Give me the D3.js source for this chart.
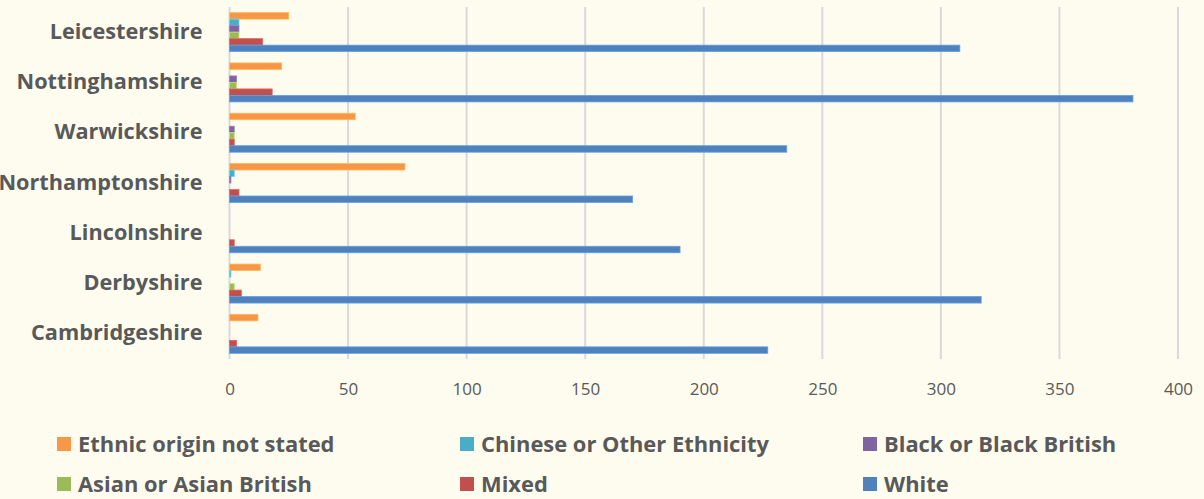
<!DOCTYPE html>
<html>
<head>
<meta charset="utf-8">
<script src="https://cdn.jsdelivr.net/npm/d3@7"></script>
<style>
  body { margin: 0; background: #fefcef; }
  svg { display: block; }
  .cat { font-family: "Open Sans", sans-serif; font-weight: bold; font-size: 21.7px; fill: #595959; }
  .tick text { font-family: "Open Sans", sans-serif; font-size: 17px; fill: #595959; }
  .legend text { font-family: "Open Sans", sans-serif; font-weight: bold; font-size: 21.9px; fill: #595959; }
</style>
</head>
<body>
<div id="chart"></div>
<script>
const counties = ["Leicestershire", "Nottinghamshire", "Warwickshire", "Northamptonshire", "Lincolnshire", "Derbyshire", "Cambridgeshire"];

// top to bottom within each county
const seriesNames = ["Ethnic origin not stated", "Chinese or Other Ethnicity", "Black or Black British", "Asian or Asian British", "Mixed", "White"];
const seriesColors = ["#f79646", "#4bacc6", "#8064a2", "#9bbb59", "#c0504d", "#4f81bd"];

const notStated = [25, 22, 53, 74, 0, 13, 12];
const chineseOther = [4, 0, 0, 2, 0, 0.6, 0];
const black = [4, 3, 2, 0.6, 0, 0, 0];
const asian = [4, 3, 2, 0, 0, 2, 0];
const mixed = [14, 18, 2, 4, 2, 5, 3];
const white = [308, 381, 235, 170, 190, 317, 227];

const xTicks = [0, 50, 100, 150, 200, 250, 300, 350, 400];

const seriesValues = [notStated, chineseOther, black, asian, mixed, white];

let svgWidth = 1204,
  svgHeight = 499,
  margin = { top: 7, right: 26, bottom: 140, left: 229.5 },
  width = svgWidth - margin.left - margin.right,
  height = svgHeight - margin.top - margin.bottom;

let svg = d3
  .select("#chart")
  .append("svg")
  .attr("width", svgWidth)
  .attr("height", svgHeight);

svg.append("rect").attr("width", svgWidth).attr("height", svgHeight).attr("fill", "#fefcef");

let g = svg.append("g").attr("transform", "translate(" + margin.left + "," + margin.top + ")");

let x = d3.scaleLinear().domain([0, 400]).range([0, width]);
let y0 = d3.scaleBand().domain(counties).range([0, height]).paddingInner(0.225).paddingOuter(0.1125);
let y1 = d3.scaleBand().domain(d3.range(seriesNames.length)).range([0, y0.bandwidth()]);

// gridlines
g.append("g")
  .selectAll("line")
  .data(xTicks)
  .enter()
  .append("line")
  .attr("x1", d => x(d))
  .attr("x2", d => x(d))
  .attr("y1", 0)
  .attr("y2", height)
  .attr("stroke", "#d9d9d9")
  .attr("stroke-width", 2);

// bars
let rows = [];
counties.forEach((c, ci) => {
  seriesValues.forEach((vals, si) => {
    rows.push({ county: c, s: si, v: vals[ci] });
  });
});

g.append("g")
  .selectAll("rect")
  .data(rows.filter(d => d.v > 0))
  .enter()
  .append("rect")
  .attr("x", x(0))
  .attr("y", d => y0(d.county) + y1(d.s))
  .attr("width", d => x(d.v) - x(0))
  .attr("height", y1.bandwidth())
  .attr("fill", d => seriesColors[d.s])
  .attr("stroke", d => d3.color(seriesColors[d.s]).brighter(0.6))
  .attr("stroke-width", 0.8);

// county labels
g.append("g")
  .selectAll("text")
  .data(counties)
  .enter()
  .append("text")
  .attr("class", "cat")
  .attr("x", -27)
  .attr("y", d => y0(d) + y0.bandwidth() / 2 - 1)
  .attr("dy", "0.35em")
  .attr("text-anchor", "end")
  .text(d => d);

// x axis
let xAxis = d3.axisBottom(x).tickValues(xTicks).tickSize(0).tickPadding(24);
let ax = g.append("g").attr("transform", "translate(0," + height + ")").call(xAxis);
ax.select(".domain").remove();

// legend
const legendPos = [
  [57, 444], [460, 444], [863, 444],
  [57, 484], [460, 484], [863, 484]
];
let legend = svg
  .append("g")
  .attr("class", "legend")
  .selectAll("g")
  .data(seriesNames)
  .enter()
  .append("g")
  .attr("transform", (d, i) => "translate(" + legendPos[i][0] + "," + legendPos[i][1] + ")");

legend
  .append("rect")
  .attr("x", 0)
  .attr("y", -7)
  .attr("width", 14)
  .attr("height", 14)
  .attr("fill", (d, i) => seriesColors[i]);

legend
  .append("text")
  .attr("x", 21)
  .attr("y", 0)
  .attr("dy", "0.35em")
  .text(d => d);
</script>
</body>
</html>
